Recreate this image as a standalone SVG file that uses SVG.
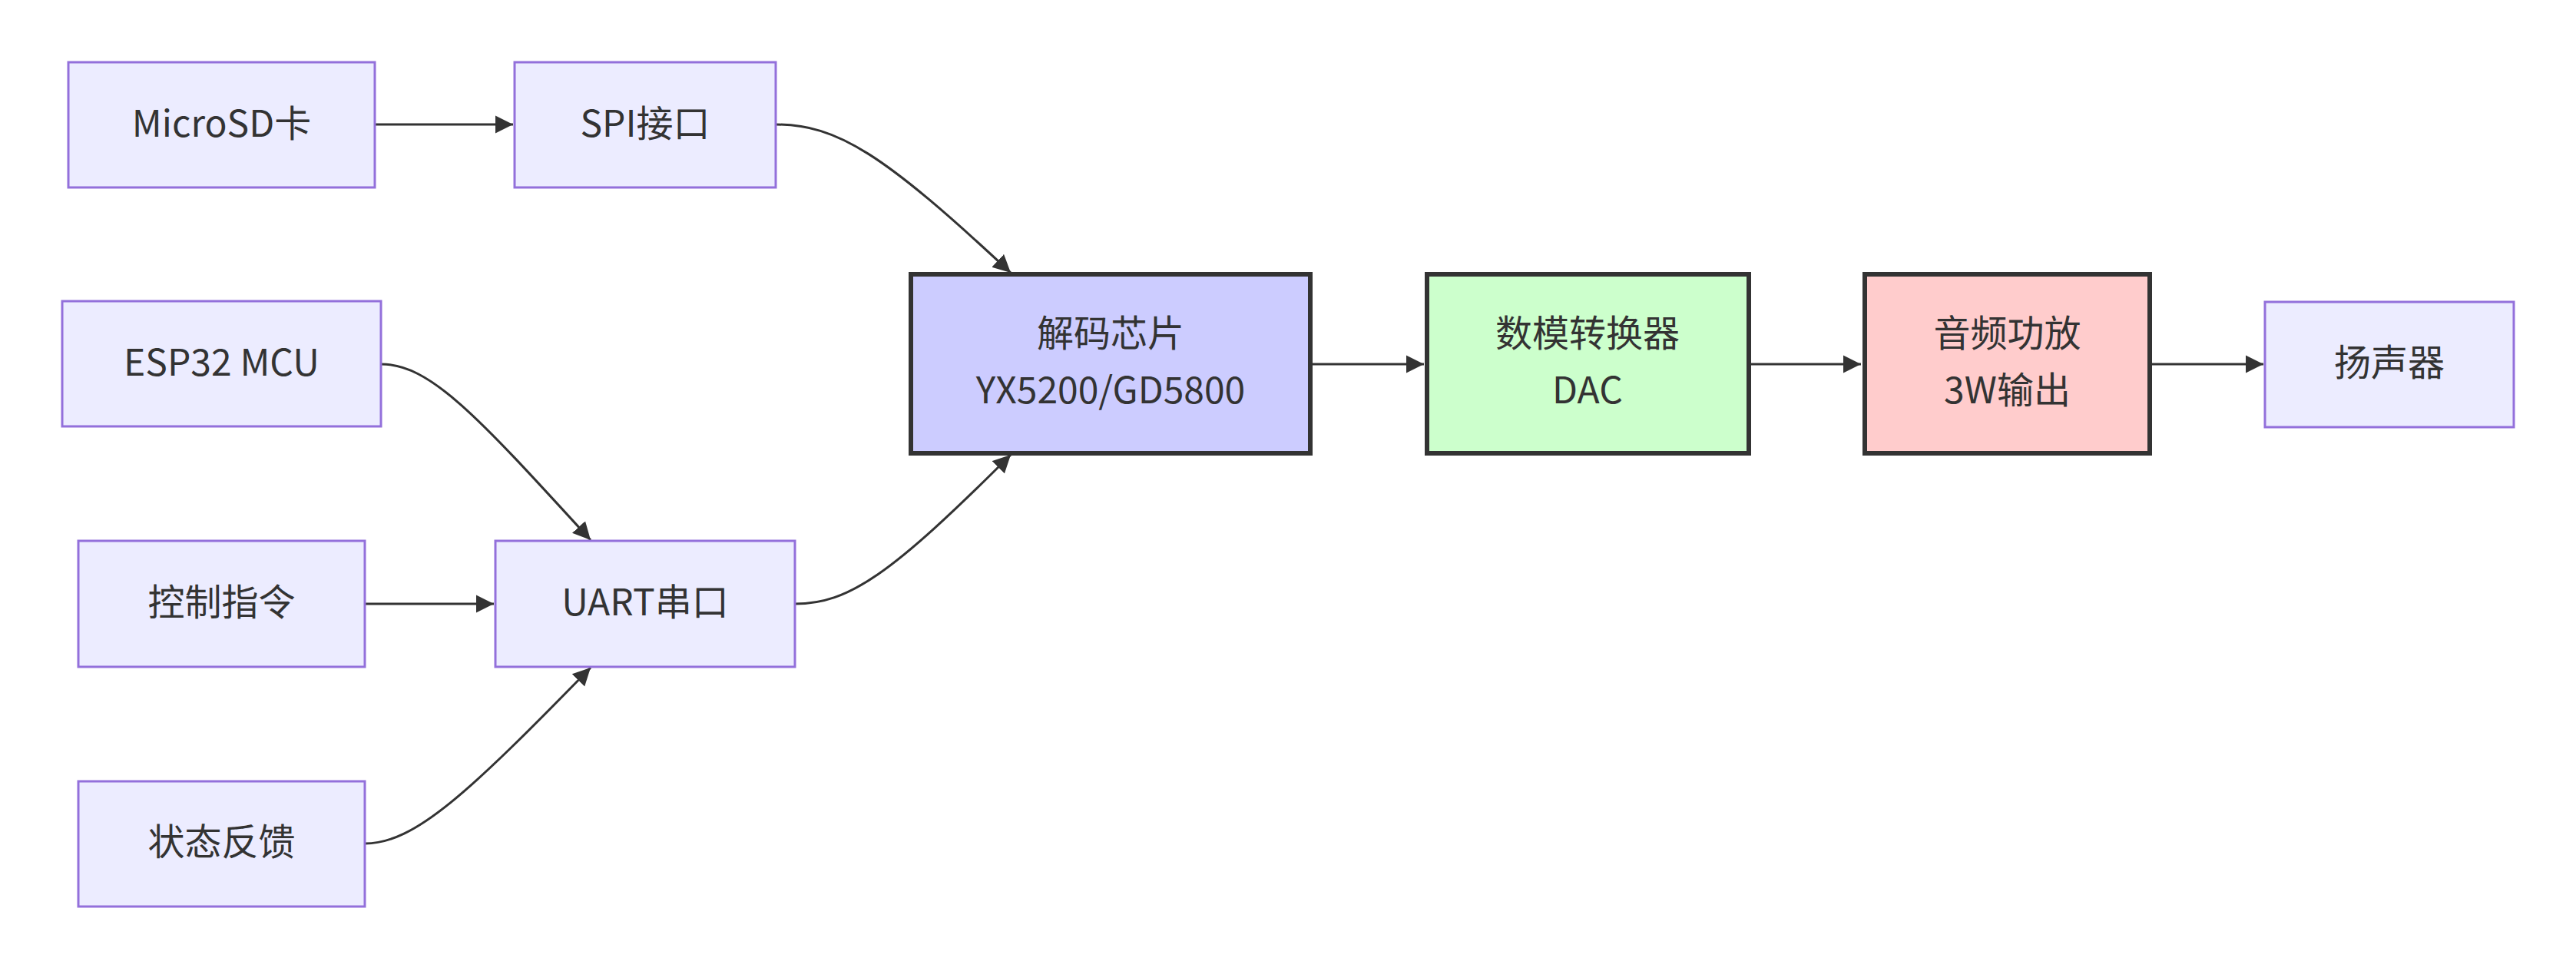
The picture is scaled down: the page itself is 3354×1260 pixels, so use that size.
<svg xmlns="http://www.w3.org/2000/svg" width="3354" height="1260" viewBox="0 0 3354 1260">
<style>
.n rect{fill:#ECECFF;stroke:#9370DB;stroke-width:3}
.n.dec rect{fill:#ccccff;stroke:#333;stroke-width:6}
.n.dac rect{fill:#ccffcc;stroke:#333;stroke-width:6}
.n.amp rect{fill:#ffcccc;stroke:#333;stroke-width:6}
.n text{font-family:"Noto Sans CJK SC","Noto Sans",sans-serif;font-size:48px;fill:#333;text-anchor:middle;dominant-baseline:central}
.e path{fill:none;stroke:#333;stroke-width:3;marker-end:url(#arr)}
</style>
<defs>
<marker id="arr" markerUnits="userSpaceOnUse" viewBox="0 0 10 10" refX="10" refY="5" markerWidth="23" markerHeight="24" orient="auto">
<path d="M0,0 L10,5 L0,10 z" fill="#333"/>
</marker>
</defs>
<rect width="3354" height="1260" fill="#fff"/>
<g id="edges" class="e">
<path d="M488,162 L668,162"/>
<path d="M1010,162 C1090,162 1150,200 1316,355"/>
<path d="M496,474 C560,474 620,540 769,703"/>
<path d="M475,786 L643,786"/>
<path d="M475,1098 C540,1098 610,1032 769,869"/>
<path d="M1035,786 C1105,786 1160,748 1316,592"/>
<path d="M1708,474 L1854,474"/>
<path d="M2278,474 L2423,474"/>
<path d="M2801,474 L2947,474"/>
</g>
<g id="microsd" class="n"><rect x="89" y="81" width="399" height="163"/><text x="288.5" y="157">MicroSD卡</text></g>
<g id="spi" class="n"><rect x="670" y="81" width="340" height="163"/><text x="840" y="157">SPI接口</text></g>
<g id="esp32" class="n"><rect x="81" y="392" width="415" height="163"/><text x="288.5" y="468">ESP32 MCU</text></g>
<g id="ctrl" class="n"><rect x="102" y="704" width="373" height="164"/><text x="288.5" y="780">控制指令</text></g>
<g id="uart" class="n"><rect x="645" y="704" width="390" height="164"/><text x="840" y="780">UART串口</text></g>
<g id="status" class="n"><rect x="102" y="1017" width="373" height="163"/><text x="288.5" y="1092">状态反馈</text></g>
<g id="decoder" class="n dec"><rect x="1186" y="357" width="520" height="233"/><text x="1446" y="430">解码芯片</text><text x="1446" y="504">YX5200/GD5800</text></g>
<g id="dac" class="n dac"><rect x="1858" y="357" width="419" height="233"/><text x="2067" y="430">数模转换器</text><text x="2067" y="504">DAC</text></g>
<g id="amp" class="n amp"><rect x="2428" y="357" width="371" height="233"/><text x="2613.5" y="430">音频功放</text><text x="2613.5" y="504">3W输出</text></g>
<g id="speaker" class="n"><rect x="2949" y="393" width="324" height="163"/><text x="3111" y="468">扬声器</text></g>
</svg>
